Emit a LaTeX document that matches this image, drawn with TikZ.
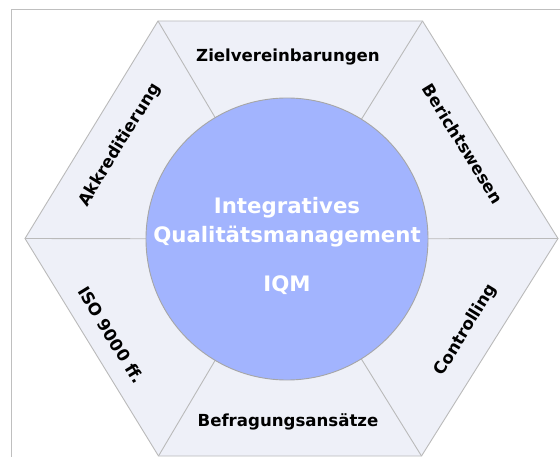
\documentclass[tikz,border=0pt]{standalone}
\usepackage{fontspec}
\setmainfont{DejaVu Sans}
\begin{document}
\begin{tikzpicture}[x=1pt,y=-1pt,
  edge/.style={draw=black!27,line width=0.9pt},
  lbl/.style={font=\bfseries\fontsize{16.6}{19}\selectfont,text=black,inner sep=0pt},
  ctr/.style={font=\bfseries\fontsize{21.3}{29}\selectfont,text=white,align=center,inner sep=0pt}]
\definecolor{hexfill}{HTML}{EEF0F8}
\definecolor{circfill}{HTML}{A2B4FE}
\useasboundingbox (0,0) rectangle (560,457);
\fill[white] (0,0) rectangle (560,457);
% frame
\draw[black!25,line width=1pt] (560,9.5) -- (11.5,9.5) -- (11.5,457);
% hexagon
\coordinate (L) at (25,238.5);
\coordinate (TL) at (158,21);
\coordinate (TR) at (422.5,21);
\coordinate (R) at (558,238.5);
\coordinate (BR) at (421.5,456);
\coordinate (BL) at (158.5,456);
\coordinate (C) at (287,239);
\filldraw[edge,fill=hexfill] (L) -- (TL) -- (TR) -- (R) -- (BR) -- (BL) -- cycle;
% dividers
\draw[edge] (L) -- (C);
\draw[edge] (R) -- (C);
\draw[edge] (TL) -- (C);
\draw[edge] (TR) -- (C);
\draw[edge] (BL) -- (C);
\draw[edge] (BR) -- (C);
% circle
\node[circle,draw=black!35,line width=0.9pt,fill=circfill,minimum size=282pt,inner sep=0pt] (circ) at (C) {};
\node[ctr] (title) at (287,246) {Integratives\\Qualitätsmanagement\\[20pt]IQM};
% labels
\node[lbl] (ziel) at (288,57) {Zielvereinbarungen};
\node[lbl] (befr) at (288,421.5) {Befragungsansätze};
\node[lbl,rotate=58.5] (akk) at (120,145) {Akkreditierung};
\node[lbl,rotate=-58.5] (ber) at (463,144) {Berichtswesen};
\node[lbl,rotate=-58.5] (iso) at (111,335) {ISO 9000 ff.};
\node[lbl,rotate=58.5] (contr) at (466,330) {Controlling};
\end{tikzpicture}
\end{document}
